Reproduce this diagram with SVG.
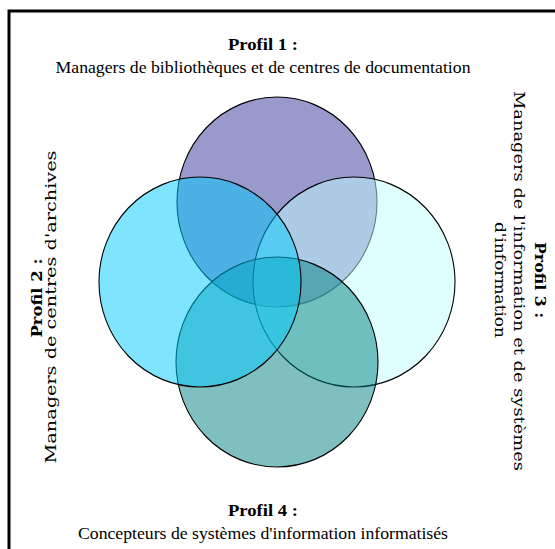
<svg xmlns="http://www.w3.org/2000/svg" width="555" height="549" viewBox="0 0 555 549">
<style>
.c{stroke:#000;stroke-width:1.1}
.t{font-family:"Liberation Serif","Times New Roman",serif;fill:#000}
.r{font-family:"DejaVu Serif","Liberation Serif",serif;fill:#000}
.b{font-weight:bold;font-size:17px}
.s{font-size:17px}
.rs{font-size:14px}
.rb{font-size:15px;font-weight:bold}
</style>
<rect x="0" y="0" width="555" height="549" fill="#fff"/>
<rect x="9" y="11" width="600" height="600" fill="none" stroke="#000" stroke-width="3"/>
<g id="circle-profil1"><ellipse class="c" cx="277" cy="202" rx="100" ry="105" fill="#9999cc"/></g>
<g id="circle-profil3"><ellipse class="c" cx="354" cy="282" rx="101" ry="105" fill="rgb(192,255,255)" fill-opacity="0.5"/></g>
<g id="circle-profil4"><ellipse class="c" cx="277" cy="362" rx="101" ry="105" fill="rgb(0,128,128)" fill-opacity="0.5"/></g>
<g id="circle-profil2"><ellipse class="c" cx="200" cy="282" rx="101" ry="105" fill="rgb(0,204,255)" fill-opacity="0.5"/></g>
<g id="label-profil1">
<text class="t b" x="263" y="50" text-anchor="middle" textLength="70" lengthAdjust="spacingAndGlyphs">Profil 1 :</text>
<text class="t s" x="263" y="73" text-anchor="middle" textLength="415" lengthAdjust="spacingAndGlyphs">Managers de bibliothèques et de centres de documentation</text>
</g>
<g id="label-profil2">
<text class="r rb" transform="translate(42,298) rotate(-90)" text-anchor="middle" textLength="79" lengthAdjust="spacingAndGlyphs">Profil 2 :</text>
<text class="r rs" transform="translate(56,307) rotate(-90)" text-anchor="middle" textLength="313" lengthAdjust="spacingAndGlyphs">Managers de centres d'archives</text>
</g>
<g id="label-profil3">
<text class="r rb" transform="translate(535,280) rotate(90)" text-anchor="middle" textLength="76" lengthAdjust="spacingAndGlyphs">Profil 3 :</text>
<text class="r rs" transform="translate(514,281) rotate(90)" text-anchor="middle" textLength="380" lengthAdjust="spacingAndGlyphs">Managers de l'information et de systèmes</text>
<text class="r rs" transform="translate(495,280) rotate(90)" text-anchor="middle" textLength="116" lengthAdjust="spacingAndGlyphs">d'information</text>
</g>
<g id="label-profil4">
<text class="t b" x="263" y="516" text-anchor="middle" textLength="70" lengthAdjust="spacingAndGlyphs">Profil 4 :</text>
<text class="t s" x="263" y="539" text-anchor="middle" textLength="370" lengthAdjust="spacingAndGlyphs">Concepteurs de systèmes d'information informatisés</text>
</g>
<g id="connectors"></g>
</svg>
